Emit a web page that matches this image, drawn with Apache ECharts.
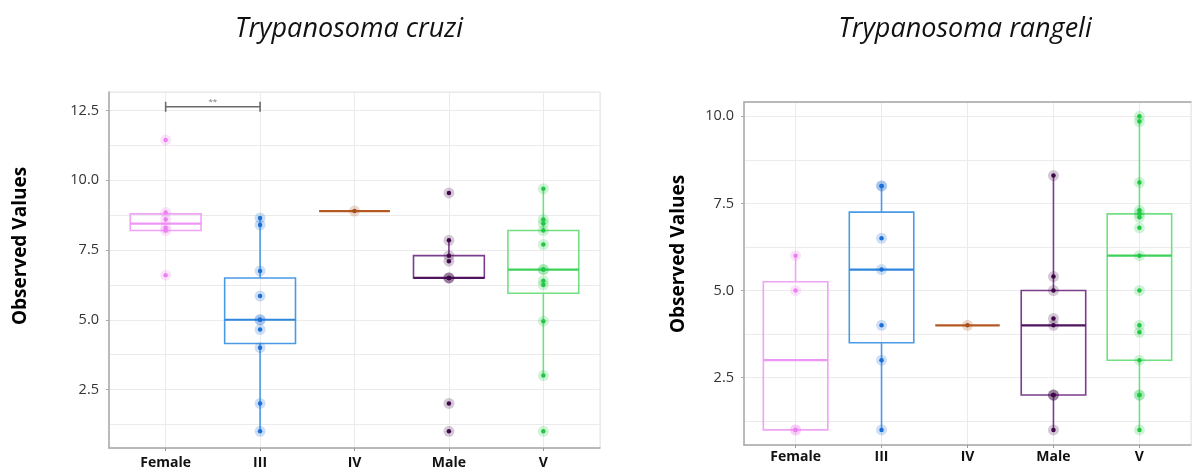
<!DOCTYPE html>
<html><head><meta charset="utf-8">
<script src="https://cdn.jsdelivr.net/npm/echarts@6/dist/echarts.min.js"></script>
<style>html,body{margin:0;padding:0;background:#fff}#c{width:1192px;height:471px}</style>
</head><body><div id="c"></div>
<script>
const categories = ['Female', 'III', 'IV', 'Male', 'V'];
const titles = ['Trypanosoma cruzi', 'Trypanosoma rangeli'];
const yTitle = 'Observed Values';
const yTicksCruzi = [2.5, 5.0, 7.5, 10.0, 12.5];
const yTicksRangeli = [2.5, 5.0, 7.5, 10.0];

// T. cruzi observations per category
const cruziFemale = [11.45, 8.85, 8.6, 8.3, 8.2, 6.6];
const cruziIII = [8.65, 8.4, 6.75, 5.85, 5.0, 5.0, 4.65, 4.0, 2.0, 1.0];
const cruziIV = [8.9];
const cruziMale = [9.55, 7.85, 7.3, 7.1, 6.5, 6.5, 6.5, 2.0, 1.0];
const cruziV = [9.7, 8.6, 8.45, 8.2, 7.7, 6.8, 6.8, 6.4, 6.25, 4.95, 3.0, 1.0];
// box stats: [lower whisker, Q1, median, Q3, upper whisker]
const cruziBoxFemale = [8.2, 8.2, 8.45, 8.8, 8.85];
const cruziBoxIII = [1.0, 4.15, 5.0, 6.5, 8.65];
const cruziBoxIV = [8.9, 8.9, 8.9, 8.9, 8.9];
const cruziBoxMale = [6.5, 6.5, 6.5, 7.3, 7.85];
const cruziBoxV = [3.0, 5.95, 6.8, 8.2, 9.7];
// significance bracket: [from category, to category, value, label]
const cruziBracket = [0, 1, 12.64, '**'];

// T. rangeli observations per category
const rangeliFemale = [6.0, 5.0, 1.0, 1.0];
const rangeliIII = [8.0, 8.0, 6.5, 5.6, 4.0, 3.0, 1.0];
const rangeliIV = [4.0];
const rangeliMale = [8.3, 5.4, 5.0, 4.2, 4.0, 2.0, 2.0, 2.0, 1.0];
const rangeliV = [10.0, 9.85, 8.1, 7.3, 7.2, 7.1, 6.8, 6.0, 5.0, 4.0, 3.8, 3.0, 2.0, 2.0, 1.0];
const rangeliBoxFemale = [1.0, 1.0, 3.0, 5.25, 6.0];
const rangeliBoxIII = [1.0, 3.5, 5.6, 7.25, 8.0];
const rangeliBoxIV = [4.0, 4.0, 4.0, 4.0, 4.0];
const rangeliBoxMale = [1.0, 2.0, 4.0, 5.0, 8.3];
const rangeliBoxV = [1.0, 3.0, 6.0, 7.2, 10.0];

const boxColors = ['#f0a4f6', '#4a9be6', '#b35a22', '#7a3d8c', '#72e081'];
const medColors = ['#ee96f4', '#2f86dd', '#b35a22', '#4f1360', '#3ed158'];
const dotColors = ['#ec80f2', '#1c6fd6', '#a8501c', '#3f0848', '#22c844'];

function toPoints(groups) {
  const out = [];
  groups.forEach((g, i) => g.forEach(v => out.push([i, v])));
  return out;
}
function toBoxes(boxes) { return boxes.map((b, i) => [i].concat(b)); }

const cruziPoints = toPoints([cruziFemale, cruziIII, cruziIV, cruziMale, cruziV]);
const rangeliPoints = toPoints([rangeliFemale, rangeliIII, rangeliIV, rangeliMale, rangeliV]);
const cruziBoxes = toBoxes([cruziBoxFemale, cruziBoxIII, cruziBoxIV, cruziBoxMale, cruziBoxV]);
const rangeliBoxes = toBoxes([rangeliBoxFemale, rangeliBoxIII, rangeliBoxIV, rangeliBoxMale, rangeliBoxV]);

const FONT = '"Open Sans", "DejaVu Sans", sans-serif';
const GRIDC = '#ebebeb';

function renderBox(params, api) {
  const i = api.value(0);
  const lo = api.value(1), q1 = api.value(2), med = api.value(3), q3 = api.value(4), hi = api.value(5);
  const half = api.size([0.75, 0])[0] / 2;
  const pLo = api.coord([i, lo]), pQ1 = api.coord([i, q1]), pMed = api.coord([i, med]);
  const pQ3 = api.coord([i, q3]), pHi = api.coord([i, hi]);
  const cx = pMed[0];
  const bs = { stroke: boxColors[i], lineWidth: 1.6, fill: null };
  const children = [
    { type: 'line', shape: { x1: cx, y1: pQ3[1], x2: cx, y2: pHi[1] }, style: bs },
    { type: 'line', shape: { x1: cx, y1: pQ1[1], x2: cx, y2: pLo[1] }, style: bs }
  ];
  if (pQ1[1] - pQ3[1] > 0.5) {
    children.push({ type: 'rect', shape: { x: cx - half, y: pQ3[1], width: 2 * half, height: pQ1[1] - pQ3[1] }, style: bs });
  }
  children.push({ type: 'line', shape: { x1: cx - half, y1: pMed[1], x2: cx + half, y2: pMed[1] },
    style: { stroke: medColors[i], lineWidth: 2.2 } });
  return { type: 'group', children };
}

function renderBracket(params, api) {
  const a = api.coord([api.value(0), api.value(2)]);
  const b = api.coord([api.value(1), api.value(2)]);
  const st = { stroke: '#6b6b6b', lineWidth: 1.6 };
  return { type: 'group', children: [
    { type: 'line', shape: { x1: a[0], y1: a[1], x2: b[0], y2: b[1] }, style: st },
    { type: 'line', shape: { x1: a[0], y1: a[1] - 5, x2: a[0], y2: a[1] + 5 }, style: st },
    { type: 'line', shape: { x1: b[0], y1: b[1] - 5, x2: b[0], y2: b[1] + 5 }, style: st },
    { type: 'text', x: (a[0] + b[0]) / 2, y: a[1] - 1, style: { text: cruziBracket[3], fill: '#777', font: '8px ' + FONT, align: 'center', verticalAlign: 'bottom' } }
  ] };
}

function xAxisFor(gi, labelMargin) {
  return {
    gridIndex: gi, type: 'value', min: -0.6, max: 4.6, minInterval: 1, maxInterval: 1, splitNumber: 5,
    axisLine: { show: true, onZero: false, lineStyle: { color: '#a8a8a8', width: 1.5 } },
    axisTick: { show: true, length: 3, lineStyle: { color: '#999' } },
    splitLine: { show: true, lineStyle: { color: GRIDC, width: 1 } },
    axisLabel: {
      margin: labelMargin, color: '#111', fontFamily: FONT, fontWeight: 'bold', fontSize: 14,
      showMinLabel: false, showMaxLabel: false,
      formatter: v => (Math.abs(v - Math.round(v)) < 1e-6 && v >= 0 && v <= 4) ? categories[Math.round(v)] : ''
    }
  };
}
function yLabelAxis(gi, mn, mx, ticks) {
  return {
    gridIndex: gi, type: 'value', min: mn, max: mx, minInterval: 2.5, maxInterval: 2.5, splitNumber: 5,
    axisLine: { show: true, onZero: false, lineStyle: { color: '#a8a8a8', width: 1.5 } },
    axisTick: { show: true, length: 3, lineStyle: { color: '#aaa' } },
    splitLine: { show: false },
    axisLabel: {
      margin: 10, color: '#333', fontFamily: FONT, fontSize: 14.5, showMinLabel: false, showMaxLabel: false,
      formatter: v => ticks.some(t => Math.abs(t - v) < 1e-6) ? v.toFixed(1) : ''
    }
  };
}
function yGridAxis(gi, mn, mx) {
  return {
    gridIndex: gi, type: 'value', min: mn, max: mx, minInterval: 1.25, maxInterval: 1.25, splitNumber: 10,
    axisLine: { show: false, onZero: false }, axisTick: { show: false }, axisLabel: { show: false },
    splitLine: { show: true, lineStyle: { color: GRIDC, width: 1 } }
  };
}

const option = {
  animation: false,
  backgroundColor: '#fff',
  grid: [
    { left: 109, top: 92, width: 491, height: 356, show: true, borderColor: '#e2e2e2', borderWidth: 1, backgroundColor: 'transparent' },
    { left: 744, top: 102, width: 447, height: 343, show: true, borderColor: '#e2e2e2', borderWidth: 1, backgroundColor: 'transparent' }
  ],
  xAxis: [
    xAxisFor(0, 8),
    xAxisFor(1, 5),
    { gridIndex: 1, type: 'value', position: 'top', min: -0.6, max: 4.6, axisLine: { show: true, onZero: false, lineStyle: { color: '#a8a8a8', width: 1.5 } },
      axisTick: { show: false }, axisLabel: { show: false }, splitLine: { show: false } }
  ],
  yAxis: [
    yLabelAxis(0, 0.4, 13.17, yTicksCruzi),
    yGridAxis(0, 0.4, 13.17),
    yLabelAxis(1, 0.566, 10.41, yTicksRangeli),
    yGridAxis(1, 0.566, 10.41)
  ],
  graphic: [
    { type: 'text', x: 349, y: 29, style: { text: titles[0], font: 'italic 27px ' + FONT, fill: '#111', align: 'center', verticalAlign: 'middle' } },
    { type: 'text', x: 965, y: 29, style: { text: titles[1], font: 'italic 27px ' + FONT, fill: '#111', align: 'center', verticalAlign: 'middle' } },
    { type: 'text', x: 21, y: 246, rotation: Math.PI / 2, style: { text: yTitle, font: 'bold 19px ' + FONT, fill: '#000', align: 'center', verticalAlign: 'middle' } },
    { type: 'text', x: 679, y: 254, rotation: Math.PI / 2, style: { text: yTitle, font: 'bold 19px ' + FONT, fill: '#000', align: 'center', verticalAlign: 'middle' } }
  ],
  series: [
    { type: 'custom', xAxisIndex: 0, yAxisIndex: 0, renderItem: renderBox, data: cruziBoxes, encode: { x: 0, y: [1, 2, 3, 4, 5] }, z: 2 },
    { type: 'custom', xAxisIndex: 1, yAxisIndex: 2, renderItem: renderBox, data: rangeliBoxes, encode: { x: 0, y: [1, 2, 3, 4, 5] }, z: 2 },
    { type: 'scatter', xAxisIndex: 0, yAxisIndex: 0, data: cruziPoints, symbolSize: 11, z: 3,
      itemStyle: { color: p => dotColors[p.data[0]], opacity: 0.22 } },
    { type: 'scatter', xAxisIndex: 0, yAxisIndex: 0, data: cruziPoints, symbolSize: 4.5, z: 4,
      itemStyle: { color: p => dotColors[p.data[0]], opacity: 1 } },
    { type: 'scatter', xAxisIndex: 1, yAxisIndex: 2, data: rangeliPoints, symbolSize: 11, z: 3,
      itemStyle: { color: p => dotColors[p.data[0]], opacity: 0.22 } },
    { type: 'scatter', xAxisIndex: 1, yAxisIndex: 2, data: rangeliPoints, symbolSize: 4.5, z: 4,
      itemStyle: { color: p => dotColors[p.data[0]], opacity: 1 } },
    { type: 'custom', xAxisIndex: 0, yAxisIndex: 0, renderItem: renderBracket, data: [cruziBracket.slice(0, 3)], encode: { x: [0, 1], y: 2 }, z: 5, clip: false }
  ]
};
const chart = echarts.init(document.getElementById('c'), null, { renderer: 'canvas' });
chart.setOption(option);
</script></body></html>
